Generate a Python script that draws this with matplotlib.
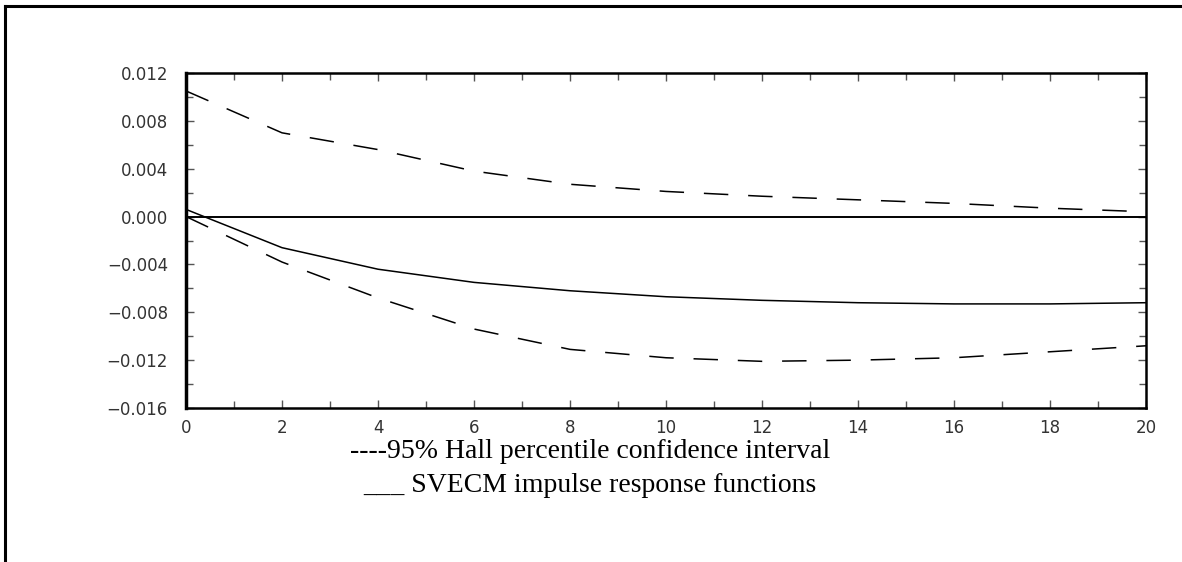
import matplotlib
matplotlib.use('Agg')
import matplotlib.pyplot as plt
from matplotlib.lines import Line2D
from matplotlib.ticker import MultipleLocator

# horizon (periods) and responses
periods = [0, 2, 4, 6, 8, 10, 12, 14, 16, 18, 20]
irf = [0.0006, -0.0026, -0.0044, -0.0055, -0.0062, -0.0067, -0.0070, -0.0072, -0.0073, -0.0073, -0.0072]
upper = [0.0105, 0.0070, 0.0056, 0.0038, 0.0027, 0.0021, 0.0017, 0.0014, 0.0011, 0.0007, 0.0004]
lower = [0.0000, -0.0038, -0.0068, -0.0094, -0.0111, -0.0118, -0.0121, -0.0120, -0.0118, -0.0113, -0.0108]

legend_lines = ['----95% Hall percentile confidence interval',
                '___ SVECM impulse response functions']

fig = plt.figure(figsize=(11.82, 5.62), dpi=100)
ax = fig.add_axes([186 / 1182, 1 - 408 / 562, 960 / 1182, 335 / 562])

ax.axhline(0, color='black', lw=1.4)
ax.plot(periods, irf, color='black', lw=1.1)
ax.plot(periods, upper, color='black', lw=1.1, dashes=(16, 13))
ax.plot(periods, lower, color='black', lw=1.1, dashes=(16, 13))

ax.set_xlim(0, 20)
ax.set_ylim(-0.016, 0.012)
ax.xaxis.set_major_locator(MultipleLocator(2))
ax.xaxis.set_minor_locator(MultipleLocator(1))
ax.yaxis.set_major_locator(MultipleLocator(0.004))
ax.yaxis.set_minor_locator(MultipleLocator(0.002))
ax.yaxis.set_major_formatter(lambda v, p: ('\u2212' if v < -1e-9 else '') + '%.3f' % abs(v))

ax.tick_params(which='both', direction='in', top=True, right=True, color='#555555')
ax.tick_params(which='major', length=6, width=1)
ax.tick_params(which='minor', length=5, width=1)
ax.tick_params(axis='both', labelsize=12, labelcolor='#333333')
ax.tick_params(axis='x', pad=8)
ax.tick_params(axis='y', pad=13)
for lab in ax.get_xticklabels() + ax.get_yticklabels():
    lab.set_family('DejaVu Sans')
for s in ax.spines.values():
    s.set_linewidth(1.8)
ax.spines['left'].set_linewidth(2.5)

fig.text(590 / 1182, 1 - 452 / 562, legend_lines[0], ha='center', va='center',
         family='Liberation Serif', fontsize=20)
fig.text(590 / 1182, 1 - 485 / 562, legend_lines[1], ha='center', va='center',
         family='Liberation Serif', fontsize=20)

# frame around the figure (left and top edges only)
fig.add_artist(Line2D([5 / 1182, 5 / 1182], [0, 1 - 6 / 562], color='black', lw=2.2))
fig.add_artist(Line2D([5 / 1182, 1], [1 - 6 / 562, 1 - 6 / 562], color='black', lw=2.2))

fig.savefig('out.png', dpi=100)
